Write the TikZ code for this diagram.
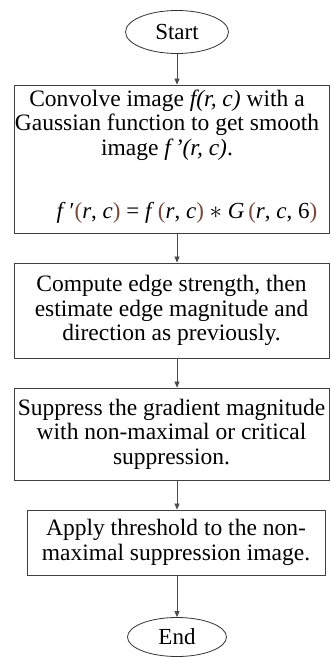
\documentclass[tikz,border=0pt]{standalone}
\usepackage{fontspec}
\setmainfont{Liberation Serif}
\usetikzlibrary{shapes.geometric,arrows.meta}
\definecolor{paren}{RGB}{120,72,60}
\tikzset{
  txt/.style={font=\fontsize{23.5}{24.5}\selectfont},
  proc/.style={draw=black!75, line width=0.9pt, minimum width=315pt, align=center, inner sep=0pt, txt},
  term/.style={draw=black!80, line width=0.8pt, ellipse, inner sep=0pt, font=\fontsize{23}{24}\selectfont},
  conn/.style={draw=black!70, line width=0.7pt, -{Triangle[length=6pt,width=5pt]}},
}
\newcommand{\pp}[1]{\textcolor{paren}{#1}}
\begin{document}
\begin{tikzpicture}[x=1pt,y=-1pt]
\useasboundingbox (0,0) rectangle (330,658);
\node[term, minimum width=103pt, minimum height=43pt] (start) at (177,32) {Start};
\node[proc, minimum height=148pt] (b1) at (171.5,159) {};
\node[txt, align=center] (t1) at (167,125) {Convolve image \textit{f(r, c)} with a\\Gaussian function to get smooth\\image \textit{f\,’(r, c)}.};
\node[font=\fontsize{23}{24}\selectfont] (eq) at (187,213) {\textit{f}\,′\pp{(}\textit{r}, \textit{c}\pp{)} = \textit{f}\,\pp{(}\textit{r}, \textit{c}\pp{)} $\ast$ \textit{G}\,\pp{(}\textit{r}, \textit{c}, 6\pp{)}};
\node[proc, minimum height=95pt] (b2) at (171.5,310.5) {Compute edge strength, then\\estimate edge magnitude and\\direction as previously.};
\node[proc, minimum height=92pt] (b3) at (171.5,434) {Suppress the gradient magnitude\\with non-maximal or critical\\suppression.};
\node[proc, minimum width=298pt, minimum height=65pt] (b4) at (176,542.5) {Apply threshold to the non-\\maximal suppression image.};
\node[term, minimum width=99pt, minimum height=39pt] (end) at (177,637) {End};
\draw[conn] (start.south) -- (start.south |- b1.north);
\draw[conn] (start.south |- b1.south) -- (start.south |- b2.north);
\draw[conn] (start.south |- b2.south) -- (start.south |- b3.north);
\draw[conn] (start.south |- b3.south) -- (start.south |- b4.north);
\draw[conn] (start.south |- b4.south) -- (end.north);
\end{tikzpicture}
\end{document}
